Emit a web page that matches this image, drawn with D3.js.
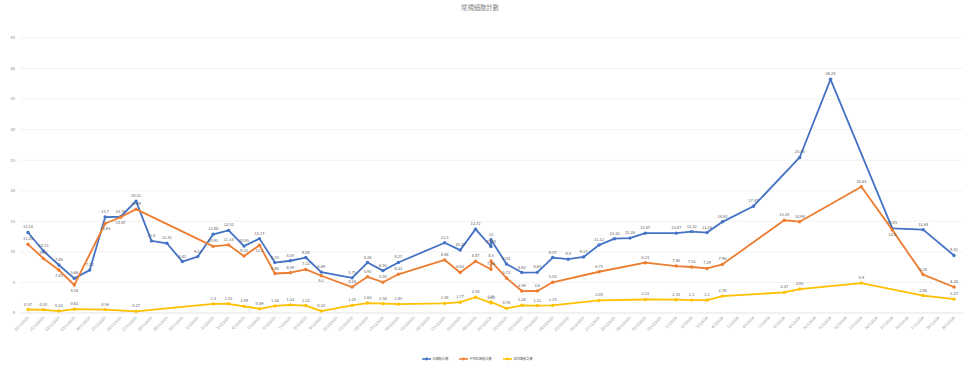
<!DOCTYPE html>
<html><head><meta charset="utf-8">
<script src="https://cdn.jsdelivr.net/npm/d3@7"></script>
<style>body{margin:0;background:#fff}svg{display:block}</style>
</head><body>
<script>
const title = "常規細胞計數";
const seriesNames = ["白細胞計數", "中性粒細胞計數", "淋巴細胞計數"];
const dates = ["20/11/2023","21/11/2023","22/11/2023","23/11/2023","24/11/2023","25/11/2023","26/11/2023","27/11/2023","28/11/2023","29/11/2023","30/11/2023","1/12/2023","2/12/2023","3/12/2023","4/12/2023","5/12/2023","6/12/2023","7/12/2023","8/12/2023","9/12/2023","11/12/2023","12/12/2023","13/12/2023","14/12/2023","17/12/2023","18/12/2023","19/12/2023","20/12/2023","20/12/2023","21/12/2023","22/12/2023","23/12/2023","24/12/2023","25/12/2023","26/12/2023","27/12/2023","28/12/2023","29/12/2023","30/12/2023","1/1/2024","2/1/2024","3/1/2024","4/1/2024","6/1/2024","8/1/2024","9/1/2024","11/1/2024","13/1/2024","15/1/2024","17/1/2024","19/1/2024"];
const wbc   = [13.18,10.15,7.86,5.66,7.02,15.7,15.75,18.31,11.8,11.41,8.42,9.23,12.88,13.52,10.95,12.17,8.25,8.55,9.08,6.69,5.75,8.26,6.93,8.27,11.5,10.29,13.72,10.88,12,8.03,6.62,6.65,9.07,8.8,9.17,11.12,12.16,12.26,13.07,13.07,13.32,13.16,14.92,17.47,null,25.45,38.24,null,13.85,13.64,9.41];
const neut  = [11.24,8.93,7.03,4.58,null,14.65,15.67,16.99,null,null,null,null,10.91,11.14,9.31,11.1,6.46,6.59,7.13,6.1,4.24,5.92,5.03,6.33,8.68,6.63,8.47,7.16,8.5,5.73,3.59,3.6,5.03,null,null,6.75,null,null,8.23,7.68,7.53,7.29,7.96,null,15.18,14.94,null,20.65,13.6,6.28,4.26];
const lymph = [0.57,0.52,0.32,0.63,null,0.56,null,0.27,null,null,null,null,1.5,1.51,1.09,0.69,1.16,1.33,1.22,0.32,1.25,1.63,1.54,1.45,1.58,1.77,2.58,1.65,1.8,0.76,1.26,1.21,1.25,null,null,2.05,null,null,2.21,2.18,2.1,2.1,2.76,null,3.37,3.92,null,4.9,null,2.86,2.27];
const yTicks = [0,5,10,15,20,25,30,35,40,45];
const colors = ["#4472C4","#ED7D31","#FFC000"];

const W = 966, H = 369;
const parse = d3.timeParse("%d/%m/%Y");
const fmt = d3.timeFormat("%-d/%-m/%Y");
const svg = d3.select("body").append("svg").attr("width", W).attr("height", H)
  .style("font-family", "'Noto Sans CJK TC','Noto Sans',sans-serif");

const x = d3.scaleTime().domain([parse("20/11/2023"), parse("19/1/2024")]).range([28, 954]);
const y = d3.scaleLinear().domain([0, 45]).range([313, 38]);

svg.append("text").attr("x", 480).attr("y", 10).attr("text-anchor", "middle")
  .attr("font-size", 6.3).attr("fill", "#7f7f7f").text(title);

// grid
svg.append("g").selectAll("line").data(yTicks).join("line")
  .attr("x1", 20).attr("x2", 963).attr("y1", d => y(d)).attr("y2", d => y(d))
  .attr("stroke", d => d === 0 ? "#d9d9d9" : "#ededed").attr("stroke-width", 0.7);
svg.append("g").selectAll("text").data(yTicks).join("text")
  .attr("x", 15).attr("y", d => y(d) + 1.3).attr("text-anchor", "end")
  .attr("font-size", 4).attr("fill", "#7f7f7f").text(d => d);

// x tick labels
const days = d3.timeDay.range(x.domain()[0], d3.timeDay.offset(x.domain()[1], 1));
svg.append("g").selectAll("text").data(days).join("text")
  .attr("transform", d => `translate(${x(d)+1},${318}) rotate(-45)`)
  .attr("text-anchor", "end").attr("font-size", 3.6).attr("fill", "#8c8c8c").text(d => fmt(d));

const series = [wbc, neut, lymph];
series.forEach((vals, si) => {
  const pts = dates.map((d, i) => ({ d: parse(d), v: vals[i], i })).filter(p => p.v !== null);
  const line = d3.line().x(p => x(p.d)).y(p => y(p.v));
  svg.append("path").datum(pts).attr("d", line).attr("fill", "none")
    .attr("stroke", colors[si]).attr("stroke-width", 1.8).attr("stroke-linejoin", "round");
  svg.append("g").selectAll("circle").data(pts).join("circle")
    .attr("cx", p => x(p.d)).attr("cy", p => y(p.v)).attr("r", 1.7).attr("fill", colors[si]);
  // orange labels that would collide with blue ones go below their point
  const below = p => si === 1 && wbc[p.i] !== null && Math.abs(wbc[p.i] - p.v) < 1.2;
  svg.append("g").selectAll("text").data(pts).join("text")
    .attr("x", p => x(p.d)).attr("y", p => below(p) ? y(p.v) + 6.5 : y(p.v) - 4).attr("text-anchor", "middle")
    .attr("font-size", 4).attr("fill", "#595959").text(p => p.v);
});

// legend
const legX = [422, 459, 503];
seriesNames.forEach((n, i) => {
  const g = svg.append("g").attr("transform", `translate(${legX[i]},359)`);
  g.append("line").attr("x1", 0).attr("x2", 9).attr("stroke", colors[i]).attr("stroke-width", 1.5);
  g.append("circle").attr("cx", 4.5).attr("r", 1.4).attr("fill", colors[i]);
  g.append("text").attr("x", 10.5).attr("y", 1.2).attr("font-size", 3.2).attr("fill", "#595959").text(n);
});
</script>
</body></html>
